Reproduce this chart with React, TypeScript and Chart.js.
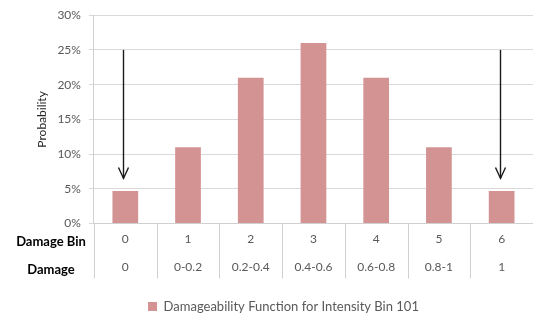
import { useEffect, useRef } from 'react';
import { Chart, registerables } from 'chart.js';

Chart.register(...registerables);

const damageBins = ['0', '1', '2', '3', '4', '5', '6'];
const damageRanges = ['0', '0-0.2', '0.2-0.4', '0.4-0.6', '0.6-0.8', '0.8-1', '1'];
const probabilities = [0.047, 0.11, 0.21, 0.26, 0.21, 0.11, 0.047];
const seriesLabel = 'Damageability Function for Intensity Bin 101';
const rowLabels = ['Damage Bin', 'Damage'];
const arrowBins = [0, 6];
const arrowStart = 0.25;
const arrowEnd = 0.065;
const yMax = 0.3;
const yStep = 0.05;

const FONT = 'Lato, "Open Sans", sans-serif';

const overlay = {
  id: 'overlay',
  afterDatasetsDraw(chart: any) {
    const { ctx, scales, chartArea } = chart;
    const x = scales.x;
    const y = scales.y;
    ctx.save();
    // table separators at category boundaries
    ctx.strokeStyle = '#d0d0d0';
    ctx.lineWidth = 1;
    for (let i = 0; i <= damageBins.length; i++) {
      const px = Math.round(x.getPixelForValue(i - 0.5)) + 0.5;
      ctx.beginPath();
      ctx.moveTo(px, chartArea.bottom);
      ctx.lineTo(px, chartArea.bottom + 55);
      ctx.stroke();
    }
    // arrows
    ctx.strokeStyle = '#1a1a1a';
    ctx.lineWidth = 1.4;
    arrowBins.forEach((i) => {
      const px = Math.round(x.getPixelForValue(i)) - 2 + 0.5;
      const y0 = y.getPixelForValue(arrowStart);
      const y1 = y.getPixelForValue(arrowEnd);
      ctx.beginPath();
      ctx.moveTo(px, y0);
      ctx.lineTo(px, y1);
      ctx.stroke();
      ctx.beginPath();
      ctx.moveTo(px - 5, y1 - 11);
      ctx.lineTo(px, y1);
      ctx.lineTo(px + 5, y1 - 11);
      ctx.stroke();
    });
    // row labels
    ctx.font = 'bold 13px ' + FONT;
    ctx.fillStyle = '#000';
    ctx.textAlign = 'center';
    ctx.textBaseline = 'middle';
    ctx.fillText(rowLabels[0], 51, chartArea.bottom + 18);
    ctx.fillText(rowLabels[1], 51, chartArea.bottom + 46);
    ctx.restore();
  },
};

export default function App() {
  const ref = useRef<HTMLCanvasElement>(null);
  useEffect(() => {
    document.body.style.margin = '0';
    const chart = new Chart(ref.current!, {
      type: 'bar',
      data: {
        labels: damageBins.map((b, i) => [b, damageRanges[i]]),
        datasets: [
          {
            label: seriesLabel,
            data: probabilities,
            backgroundColor: '#d39393',
            barPercentage: 0.41,
            categoryPercentage: 1,
          },
        ],
      },
      options: {
        animation: false,
        responsive: false,
        maintainAspectRatio: false,
        layout: { padding: { left: 31, right: -3, top: 8, bottom: -7 } },
        plugins: {
          tooltip: { enabled: false },
          legend: {
            position: 'bottom',
            labels: {
              boxWidth: 9,
              boxHeight: 9,
              color: '#595959',
              font: { family: FONT, size: 13 },
              padding: 16.5,
            },
          },
        },
        scales: {
          x: {
            grid: {
              offset: true,
              display: true,
              drawOnChartArea: false,
              drawTicks: false,
              color: '#d0d0d0',
            },
            border: { display: true, color: '#d0d0d0' },
            ticks: {
              color: '#595959',
              padding: 2,
              maxRotation: 0,
              autoSkip: false,
              font: { family: FONT, size: 12, lineHeight: 2.33 },
            },
          },
          y: {
            min: 0,
            max: yMax,
            ticks: {
              stepSize: yStep,
              color: '#595959',
              padding: 8,
              font: { family: FONT, size: 12 },
              callback: (v: any) => Math.round(Number(v) * 100) + '%',
            },
            grid: { color: '#d9d9d9', tickLength: 5 },
            border: { display: true, color: '#d0d0d0' },
            title: {
              display: true,
              text: 'Probability',
              color: '#262626',
              padding: { top: 4, bottom: 0 },
              font: { family: FONT, size: 12 },
            },
          },
        },
      },
      plugins: [overlay],
    });
    return () => chart.destroy();
  }, []);
  return <canvas ref={ref} width={533} height={316} style={{ display: 'block' }} />;
}
